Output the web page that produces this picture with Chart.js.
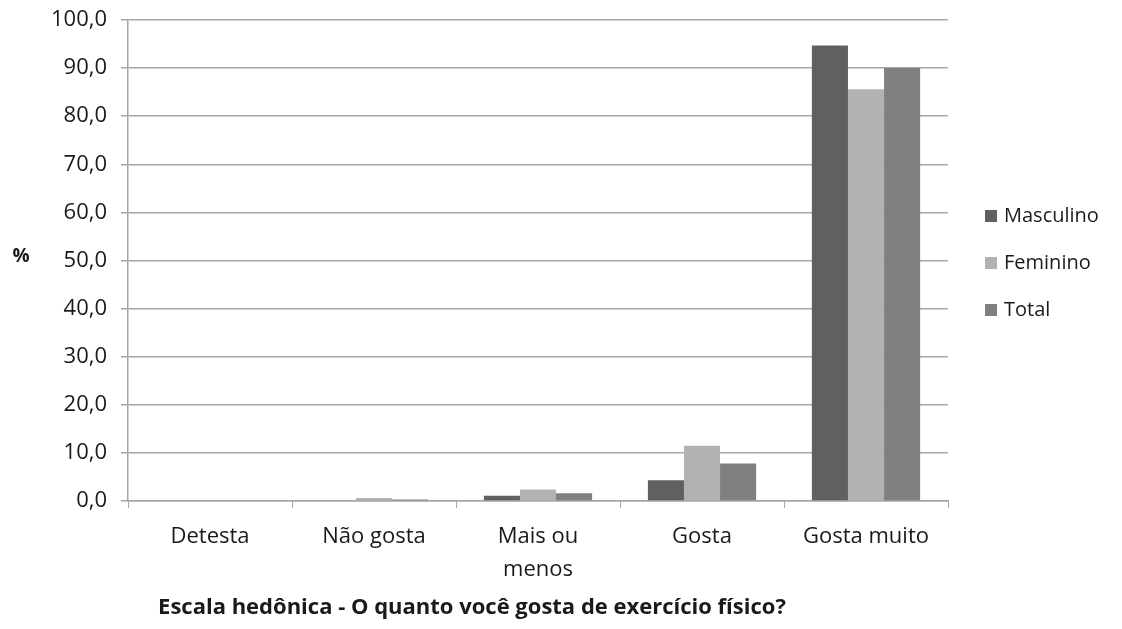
<!DOCTYPE html>
<html>
<head>
<meta charset="utf-8">
<script src="https://cdn.jsdelivr.net/npm/chart.js@4/dist/chart.umd.min.js"></script>
<style>
  html, body { margin: 0; padding: 0; background: #fff; }
  #wrap { width: 1122px; height: 629px; }
</style>
</head>
<body>
<div id="wrap"><canvas id="grafico" width="1122" height="629"></canvas></div>
<script>
// Escala hedônica - respostas por sexo (%)
const categorias = ['Detesta', 'Não gosta', ['Mais ou', 'menos'], 'Gosta', 'Gosta muito'];
const masculino = [0, 0, 1.1, 4.3, 94.7];
const feminino = [0, 0.6, 2.4, 11.5, 85.6];
const total = [0, 0.3, 1.6, 7.8, 90.0];
const yTicks = [0, 10, 20, 30, 40, 50, 60, 70, 80, 90, 100];
const tituloX = 'Escala hedônica - O quanto você gosta de exercício físico?';

const fonte = "'Open Sans', 'Noto Sans', sans-serif";
const corTexto = '#1a1a1a';
const corGrade = '#a6a6a6';

// legenda à direita, rótulo "%" e título do eixo x desenhados à mão
const extras = {
  id: 'extras',
  afterDraw(chart) {
    const ctx = chart.ctx;
    ctx.save();
    ctx.fillStyle = corTexto;
    ctx.textAlign = 'center';
    ctx.textBaseline = 'middle';
    ctx.font = 'bold 19px ' + fonte;
    ctx.fillText('%', 21, 257);

    ctx.font = 'bold 22px ' + fonte;
    ctx.fillText(tituloX, 472, 608);

    ctx.font = '20px ' + fonte;
    ctx.textAlign = 'left';
    chart.data.datasets.forEach((ds, i) => {
      const y = 216 + i * 47;
      ctx.fillStyle = ds.backgroundColor;
      ctx.fillRect(985, y - 6, 12, 12);
      ctx.fillStyle = corTexto;
      ctx.fillText(ds.label, 1004, y);
    });
    ctx.restore();
  }
};

new Chart(document.getElementById('grafico'), {
  type: 'bar',
  data: {
    labels: categorias,
    datasets: [
      { label: 'Masculino', data: masculino, backgroundColor: '#606060' },
      { label: 'Feminino', data: feminino, backgroundColor: '#b2b2b2' },
      { label: 'Total', data: total, backgroundColor: '#808080' }
    ]
  },
  options: {
    responsive: false,
    animation: false,
    layout: { padding: { left: 0, right: 174, top: 20, bottom: 0 } },
    datasets: { bar: { barPercentage: 1, categoryPercentage: 0.66 } },
    plugins: { legend: { display: false }, tooltip: { enabled: false } },
    scales: {
      x: {
        afterFit(scale) { scale.height = 128; },
        grid: { drawOnChartArea: false, drawTicks: true, tickLength: 7, color: corGrade, offset: true },
        border: { color: corGrade, width: 1.5 },
        ticks: { color: corTexto, font: { family: fonte, size: 22, lineHeight: 1.5 }, padding: 12, maxRotation: 0 }
      },
      y: {
        min: 0,
        max: 100,
        afterFit(scale) {
          scale.width = 128;
          scale.paddingTop = 0;
          scale.paddingBottom = 0;
        },
        afterBuildTicks(scale) { scale.ticks = yTicks.map(v => ({ value: v })); },
        grid: { color: corGrade, lineWidth: 1.5, tickLength: 7 },
        border: { color: corGrade, width: 1.5 },
        ticks: {
          color: corTexto,
          font: { family: fonte, size: 22 },
          padding: 14,
          callback: v => v.toFixed(1).replace('.', ',')
        }
      }
    }
  },
  plugins: [extras]
});
</script>
</body>
</html>
